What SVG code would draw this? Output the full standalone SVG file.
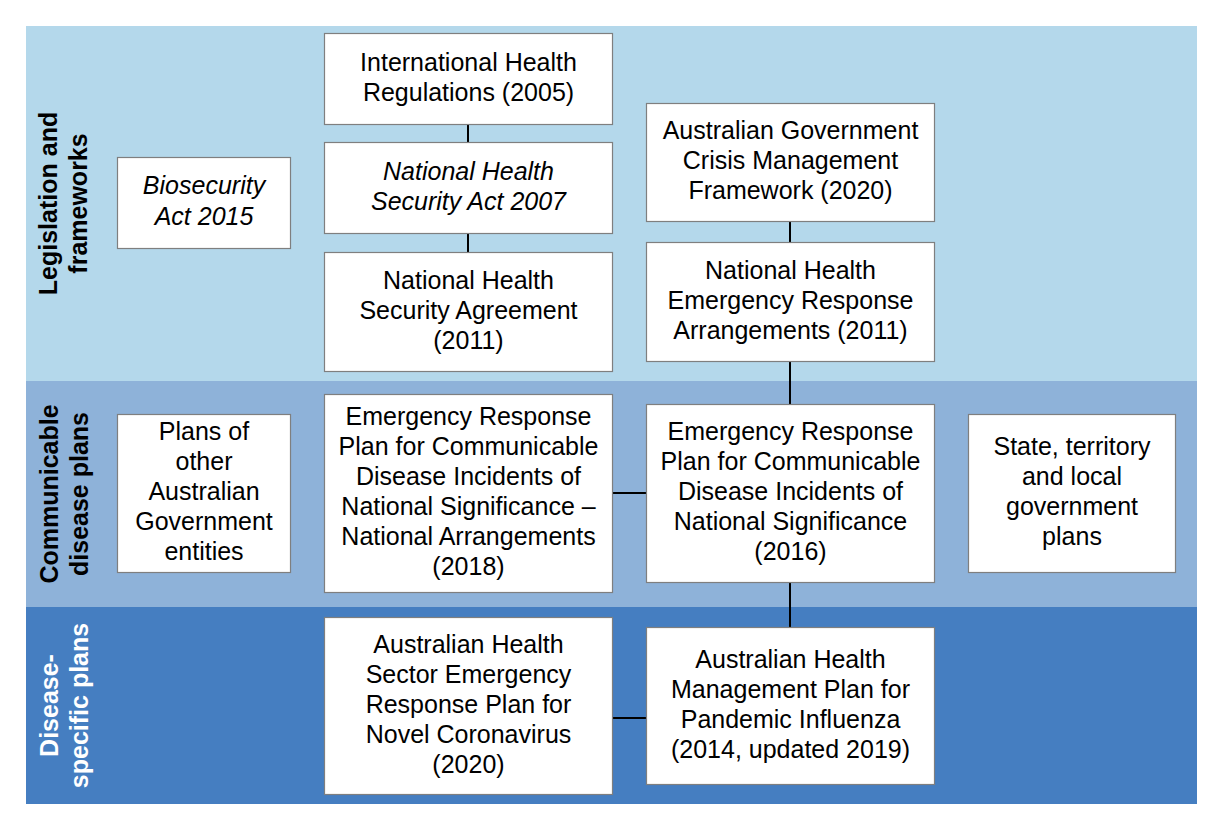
<svg xmlns="http://www.w3.org/2000/svg" width="1222" height="830" viewBox="0 0 1222 830">
<style>
.box{fill:#ffffff;stroke:#7f7f7f;stroke-width:1.2}
.t{font-family:"Liberation Sans",Arial,sans-serif;font-size:25px;fill:#000;text-anchor:middle}
.i{font-style:italic}
.lab{font-family:"Liberation Sans",Arial,sans-serif;font-size:25px;font-weight:bold;text-anchor:middle}
.conn{stroke:#000;stroke-width:2;fill:none}
</style>
<rect width="1222" height="830" fill="#ffffff"/>
<g id="bands">
<rect x="26" y="26" width="1171" height="355" fill="#b4d8eb"/>
<rect x="26" y="381" width="1171" height="226" fill="#8eb2d9"/>
<rect x="26" y="607" width="1171" height="197" fill="#457ec1"/>
</g>
<g id="band-labels">
<text class="lab" fill="#000" transform="translate(57,203.5) rotate(-90)"><tspan x="0" y="0">Legislation and</tspan><tspan x="0" y="30">frameworks</tspan></text>
<text class="lab" fill="#000" transform="translate(58,494) rotate(-90)"><tspan x="0" y="0">Communicable</tspan><tspan x="0" y="30">disease plans</tspan></text>
<text class="lab" fill="#ffffff" transform="translate(58,705.5) rotate(-90)"><tspan x="0" y="0">Disease-</tspan><tspan x="0" y="30">specific plans</tspan></text>
</g>
<g id="connectors">
<line class="conn" x1="468" y1="124" x2="468" y2="142"/>
<line class="conn" x1="468" y1="233" x2="468" y2="252"/>
<line class="conn" x1="790" y1="221" x2="790" y2="242"/>
<line class="conn" x1="790" y1="361" x2="790" y2="404"/>
<line class="conn" x1="790" y1="582" x2="790" y2="627"/>
<line class="conn" x1="612" y1="493" x2="646" y2="493"/>
<line class="conn" x1="612" y1="718" x2="646" y2="718"/>
</g>
<g id="biosecurity">
<rect class="box" x="117.5" y="157.5" width="173" height="91"/>
<text class="t i"><tspan x="204" y="194">Biosecurity</tspan><tspan x="204" y="224.5">Act 2015</tspan></text>
</g>
<g id="ihr">
<rect class="box" x="324.5" y="33.5" width="288" height="91"/>
<text class="t"><tspan x="468.5" y="70.5">International Health</tspan><tspan x="468.5" y="100.5">Regulations (2005)</tspan></text>
</g>
<g id="nhs-act">
<rect class="box" x="324.5" y="142.5" width="288" height="91"/>
<text class="t i"><tspan x="468.5" y="179.5">National Health</tspan><tspan x="468.5" y="210">Security Act 2007</tspan></text>
</g>
<g id="nhs-agreement">
<rect class="box" x="324.5" y="252.5" width="288" height="119"/>
<text class="t"><tspan x="468.5" y="288.5">National Health</tspan><tspan x="468.5" y="318.5">Security Agreement</tspan><tspan x="468.5" y="348.5">(2011)</tspan></text>
</g>
<g id="agcmf">
<rect class="box" x="646.5" y="103.5" width="288" height="118"/>
<text class="t"><tspan x="790.5" y="139">Australian Government</tspan><tspan x="790.5" y="169">Crisis Management</tspan><tspan x="790.5" y="199">Framework (2020)</tspan></text>
</g>
<g id="nhera">
<rect class="box" x="646.5" y="242.5" width="288" height="119"/>
<text class="t"><tspan x="790.5" y="278.5">National Health</tspan><tspan x="790.5" y="308.5">Emergency Response</tspan><tspan x="790.5" y="338.5">Arrangements (2011)</tspan></text>
</g>
<g id="other-plans">
<rect class="box" x="117.5" y="414.5" width="173" height="158"/>
<text class="t"><tspan x="204" y="440">Plans of</tspan><tspan x="204" y="470">other</tspan><tspan x="204" y="500">Australian</tspan><tspan x="204" y="530">Government</tspan><tspan x="204" y="560">entities</tspan></text>
</g>
<g id="erp-national">
<rect class="box" x="324.5" y="394.5" width="288" height="198"/>
<text class="t"><tspan x="468.5" y="425">Emergency Response</tspan><tspan x="468.5" y="455">Plan for Communicable</tspan><tspan x="468.5" y="485">Disease Incidents of</tspan><tspan x="468.5" y="515">National Significance –</tspan><tspan x="468.5" y="545">National Arrangements</tspan><tspan x="468.5" y="575">(2018)</tspan></text>
</g>
<g id="erp-2016">
<rect class="box" x="646.5" y="404.5" width="288" height="178"/>
<text class="t"><tspan x="790.5" y="440">Emergency Response</tspan><tspan x="790.5" y="470">Plan for Communicable</tspan><tspan x="790.5" y="500">Disease Incidents of</tspan><tspan x="790.5" y="530">National Significance</tspan><tspan x="790.5" y="560">(2016)</tspan></text>
</g>
<g id="state-plans">
<rect class="box" x="968.5" y="414.5" width="207" height="158"/>
<text class="t"><tspan x="1072" y="455">State, territory</tspan><tspan x="1072" y="485">and local</tspan><tspan x="1072" y="515">government</tspan><tspan x="1072" y="545">plans</tspan></text>
</g>
<g id="ahserp">
<rect class="box" x="324.5" y="617.5" width="288" height="177"/>
<text class="t"><tspan x="468.5" y="652.5">Australian Health</tspan><tspan x="468.5" y="682.5">Sector Emergency</tspan><tspan x="468.5" y="712.5">Response Plan for</tspan><tspan x="468.5" y="742.5">Novel Coronavirus</tspan><tspan x="468.5" y="772.5">(2020)</tspan></text>
</g>
<g id="ahmppi">
<rect class="box" x="646.5" y="627.5" width="288" height="157"/>
<text class="t"><tspan x="790.5" y="667.5">Australian Health</tspan><tspan x="790.5" y="697.5">Management Plan for</tspan><tspan x="790.5" y="727.5">Pandemic Influenza</tspan><tspan x="790.5" y="757.5">(2014, updated 2019)</tspan></text>
</g>
</svg>
